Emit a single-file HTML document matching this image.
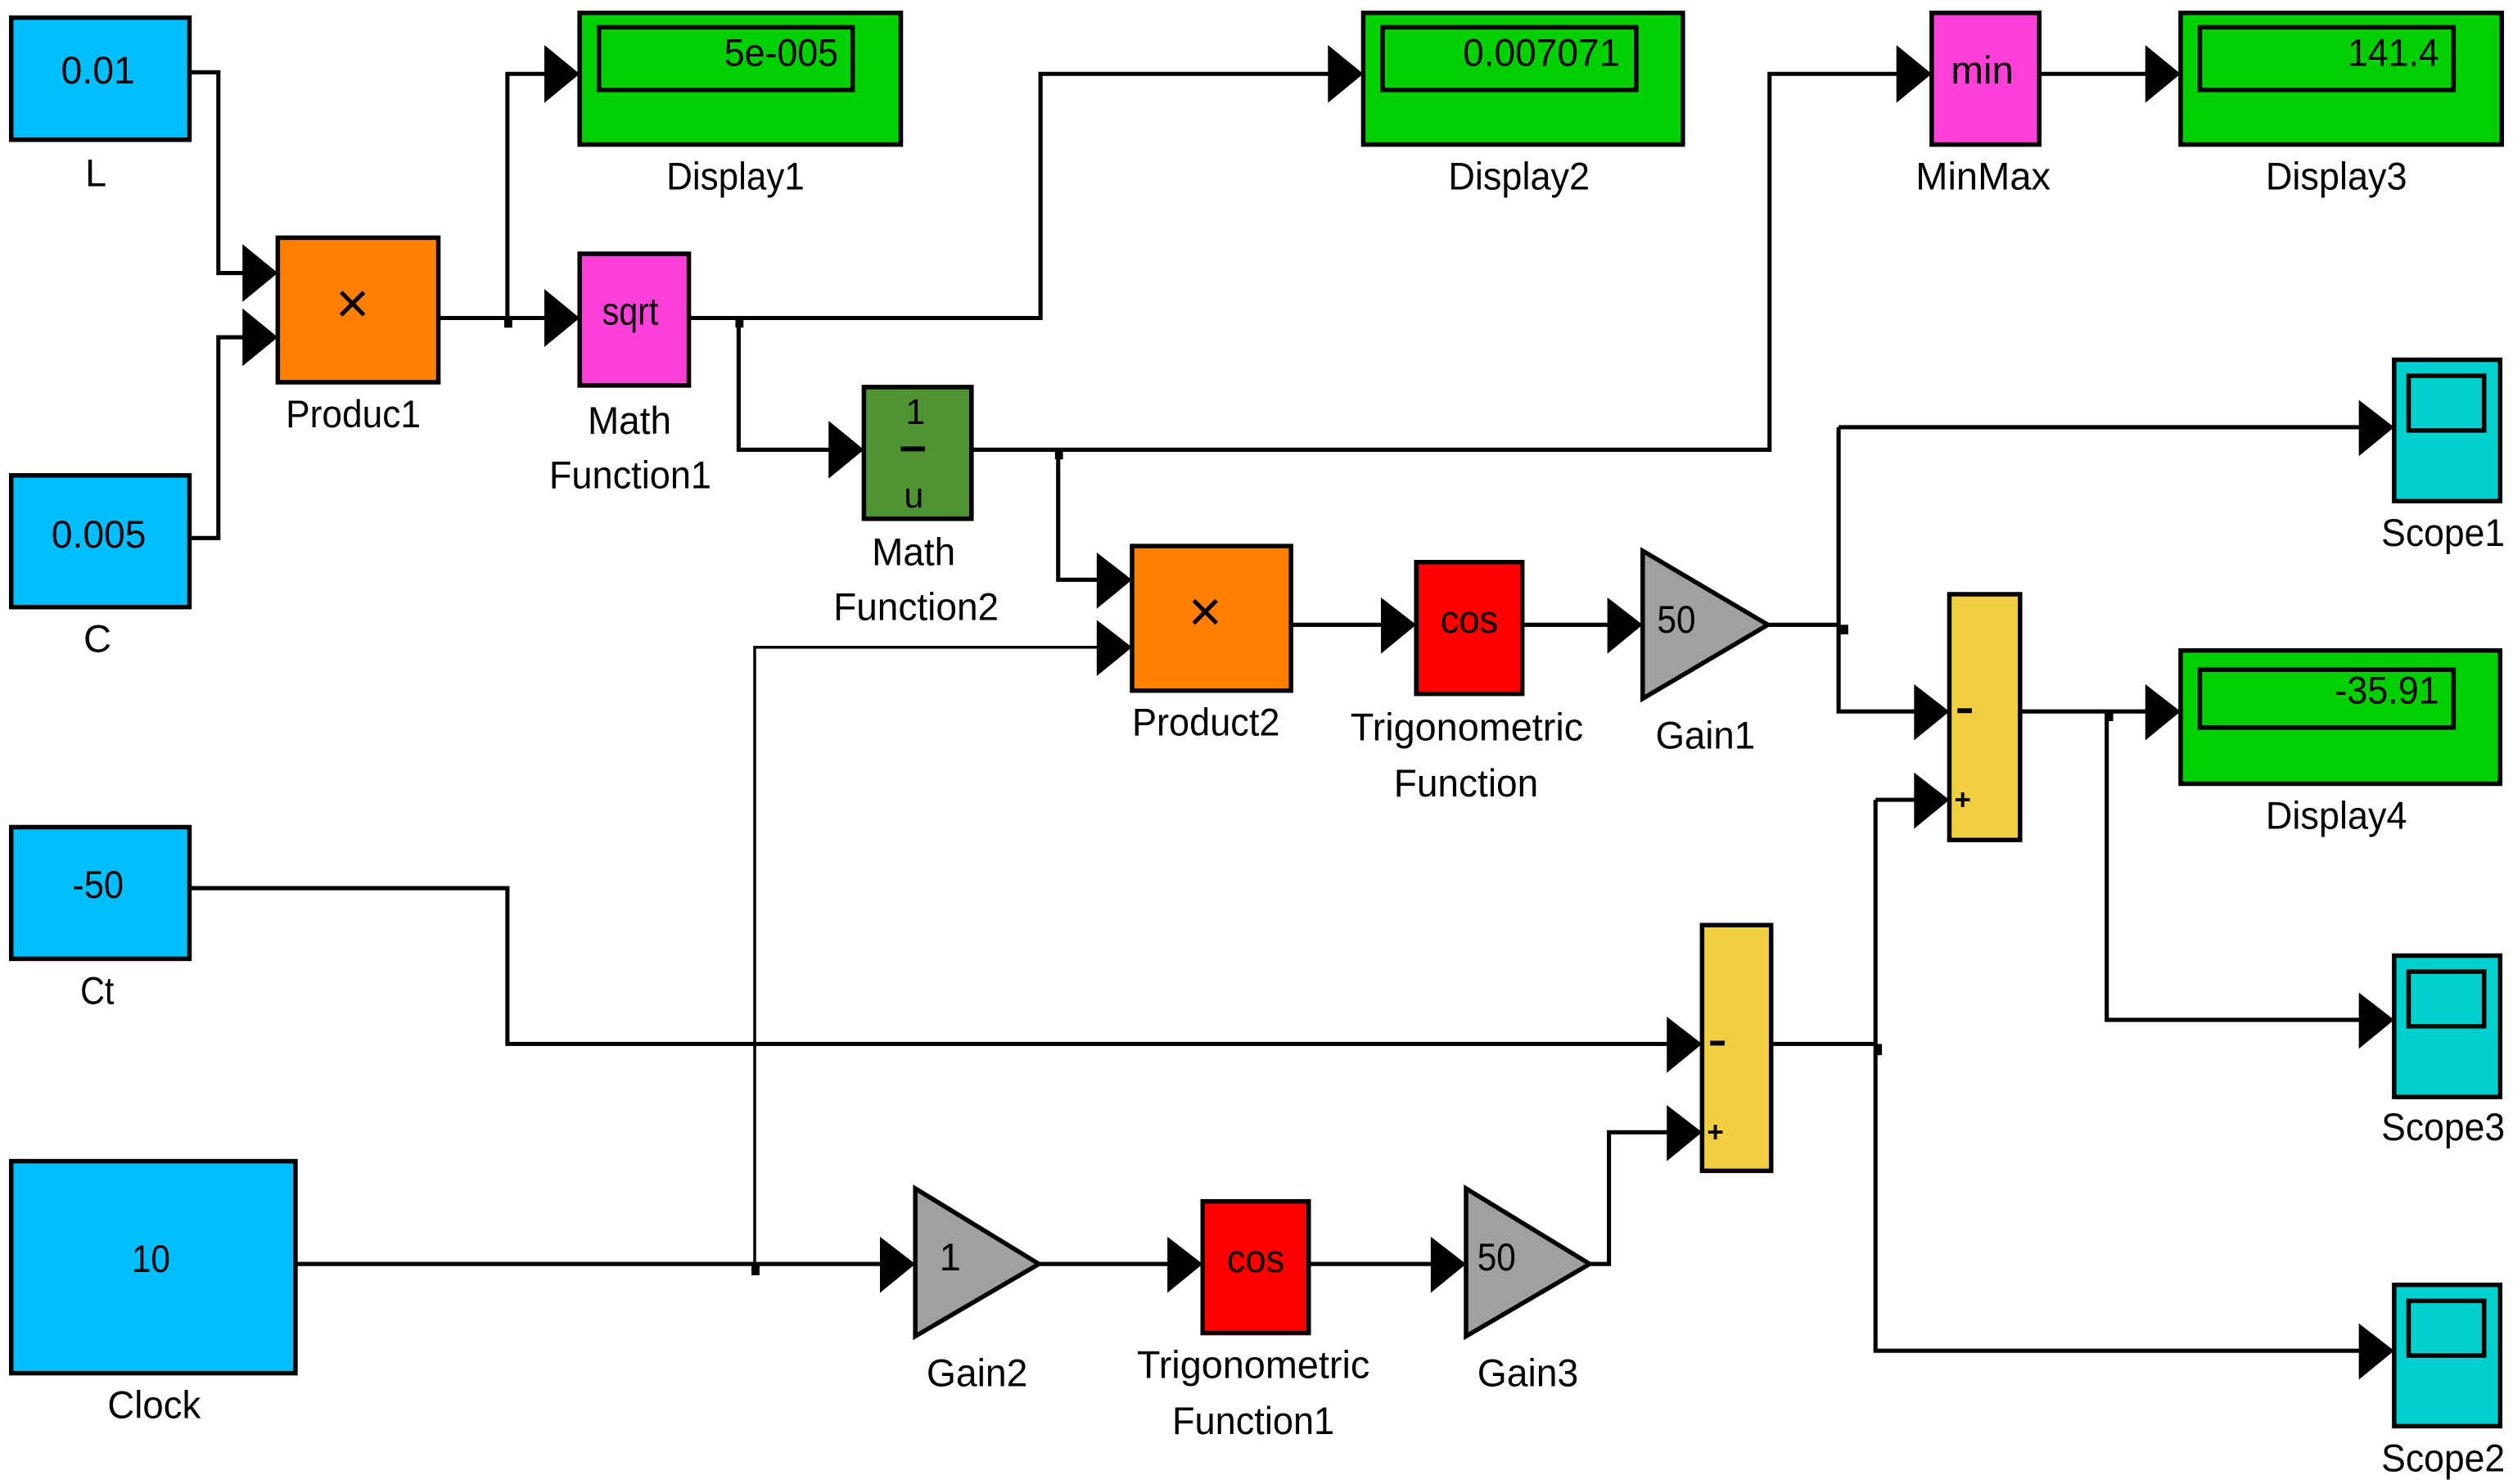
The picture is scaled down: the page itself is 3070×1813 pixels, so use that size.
<!DOCTYPE html>
<html><head><meta charset="utf-8"><style>
html,body{margin:0;padding:0;background:#fff;}
svg{display:block;}
text{font-family:"Liberation Sans",sans-serif;fill:#000;}
</style></head><body>
<svg width="3070" height="1813" viewBox="0 0 1565 924" preserveAspectRatio="none" xmlns="http://www.w3.org/2000/svg">
<g fill="none" stroke="#000" stroke-width="2.6">
<polyline points="118,45 136,45 136,170 160,170"/>
<polyline points="118,335 136,335 136,210 160,210"/>
<polyline points="273,198 350,198"/>
<polyline points="316,198 316,46 350,46"/>
<polyline points="429,198 648,198 648,46 838,46"/>
<polyline points="460,198 460,280 527,280"/>
<polyline points="605,280 1102,280 1102,46 1192,46"/>
<polyline points="1270,46 1347,46"/>
<polyline points="659,280 659,361 694,361"/>
<polyline points="184,787 559,787"/>
<polyline points="470,787 470,403 694,403" stroke-width="1.8"/>
<polyline points="804,389 871,389"/>
<polyline points="948,389 1012,389"/>
<polyline points="1101,389 1145,389"/>
<polyline points="1145,266 1145,443 1203,443"/>
<polyline points="1145,266 1480,266"/>
<polyline points="1258,443 1347,443"/>
<polyline points="1312,443 1312,635 1480,635"/>
<polyline points="118,553 316,553 316,650 1049,650"/>
<polyline points="647,787 738,787"/>
<polyline points="815,787 902,787"/>
<polyline points="990,787 1002,787 1002,705 1049,705"/>
<polyline points="1103,650 1168,650"/>
<polyline points="1168,498 1168,841 1480,841"/>
<polyline points="1168,498 1203,498"/>
</g>
<g fill="#000">
<polygon points="151,152 173,170 151,188"/>
<polygon points="151,192 173,210 151,228"/>
<polygon points="339,180 361,198 339,216"/>
<polygon points="339,28 361,46 339,64"/>
<polygon points="827,28 849,46 827,64"/>
<polygon points="1181,28 1203,46 1181,64"/>
<polygon points="1336,28 1358,46 1336,64"/>
<polygon points="516,262 538,280 516,298"/>
<polygon points="683,344 705,361 683,379"/>
<polygon points="683,386 705,403 683,421"/>
<polygon points="860,372 882,389 860,407"/>
<polygon points="1001,372 1023,389 1001,407"/>
<polygon points="1469,249 1491,266 1469,284"/>
<polygon points="1192,426 1214,443 1192,461"/>
<polygon points="1192,481 1214,498 1192,516"/>
<polygon points="1336,426 1358,443 1336,461"/>
<polygon points="1469,618 1491,635 1469,653"/>
<polygon points="1038,633 1060,650 1038,668"/>
<polygon points="1038,688 1060,705 1038,723"/>
<polygon points="1469,824 1491,841 1469,859"/>
<polygon points="548,770 570,787 548,805"/>
<polygon points="727,770 749,787 727,805"/>
<polygon points="891,770 913,787 891,805"/>
<rect x="314" y="198" width="5" height="6"/>
<rect x="458" y="198" width="5" height="6"/>
<rect x="657" y="280" width="5" height="6"/>
<rect x="1146" y="389" width="5" height="6"/>
<rect x="1311" y="443" width="5" height="6"/>
<rect x="1167" y="650" width="5" height="7"/>
<rect x="468" y="787" width="5" height="7"/>
</g>
<g stroke="#000" stroke-width="2.8">
<rect x="7" y="11" width="111" height="76" fill="#00bfff"/>
<rect x="7" y="296" width="111" height="82" fill="#00bfff"/>
<rect x="7" y="515" width="111" height="82" fill="#00bfff"/>
<rect x="7" y="723" width="177" height="132" fill="#00bfff"/>
<rect x="173" y="148" width="100" height="90" fill="#ff8000"/>
<rect x="705" y="340" width="99" height="90" fill="#ff8000"/>
<rect x="361" y="8" width="200" height="82" fill="#00d000"/>
<rect x="373" y="17" width="158" height="39" fill="none"/>
<rect x="849" y="8" width="199" height="82" fill="#00d000"/>
<rect x="861" y="17" width="158" height="39" fill="none"/>
<rect x="1358" y="8" width="200" height="82" fill="#00d000"/>
<rect x="1370" y="17" width="158" height="39" fill="none"/>
<rect x="1358" y="405" width="199" height="83" fill="#00d000"/>
<rect x="1370" y="417" width="158" height="36" fill="none"/>
<rect x="361" y="158" width="68" height="82" fill="#ff40d8"/>
<rect x="1203" y="8" width="67" height="82" fill="#ff40d8"/>
<rect x="538" y="241" width="67" height="82" fill="#4f9433"/>
<rect x="882" y="350" width="66" height="82" fill="#ff0000"/>
<rect x="749" y="748" width="66" height="82" fill="#ff0000"/>
<polygon points="1023,343 1101,389 1023,435" fill="#a0a0a0"/>
<polygon points="570,740 647,787 570,832" fill="#a0a0a0"/>
<polygon points="913,740 990,787 913,832" fill="#a0a0a0"/>
<rect x="1214" y="370" width="44" height="153" fill="#f0d040"/>
<rect x="1060" y="576" width="43" height="153" fill="#f0d040"/>
<rect x="1491" y="224" width="66" height="88" fill="#00d0d0"/>
<rect x="1500" y="234" width="47" height="34" fill="none"/>
<rect x="1491" y="595" width="66" height="88" fill="#00d0d0"/>
<rect x="1500" y="605" width="47" height="34" fill="none"/>
<rect x="1491" y="800" width="66" height="88" fill="#00d0d0"/>
<rect x="1500" y="810" width="47" height="34" fill="none"/>
</g>
<g fill="#000">
<rect x="561" y="278" width="15" height="3"/>
<rect x="1219" y="441" width="9" height="3"/>
<rect x="1065" y="648" width="9" height="3"/>
</g>
<g font-size="24">
<text x="38" y="52" textLength="46" lengthAdjust="spacingAndGlyphs">0.01</text>
<text x="32" y="341" textLength="59" lengthAdjust="spacingAndGlyphs">0.005</text>
<text x="45" y="559" textLength="32" lengthAdjust="spacingAndGlyphs">-50</text>
<text x="82" y="792" textLength="24" lengthAdjust="spacingAndGlyphs">10</text>
<text x="209" y="201" font-size="36">×</text>
<text x="740" y="393" font-size="36">×</text>
<text x="375" y="202" textLength="35" lengthAdjust="spacingAndGlyphs">sqrt</text>
<text x="1215" y="52" textLength="39" lengthAdjust="spacingAndGlyphs">min</text>
<text x="897" y="394" textLength="36" lengthAdjust="spacingAndGlyphs">cos</text>
<text x="764" y="792" textLength="36" lengthAdjust="spacingAndGlyphs">cos</text>
<text x="1032" y="394" textLength="24" lengthAdjust="spacingAndGlyphs">50</text>
<text x="920" y="791" textLength="24" lengthAdjust="spacingAndGlyphs">50</text>
<text x="585" y="791">1</text>
<text x="564" y="264" font-size="22">1</text>
<text x="563" y="316" font-size="22">u</text>
<text x="451" y="41" textLength="71" lengthAdjust="spacingAndGlyphs">5e-005</text>
<text x="911" y="41" textLength="98" lengthAdjust="spacingAndGlyphs">0.007071</text>
<text x="1462" y="41" textLength="57" lengthAdjust="spacingAndGlyphs">141.4</text>
<text x="1454" y="438" textLength="65" lengthAdjust="spacingAndGlyphs">-35.91</text>
<text x="1217" y="504" font-size="18" font-weight="bold">+</text>
<text x="1063" y="711" font-size="18" font-weight="bold">+</text>
<text x="53" y="116">L</text>
<text x="52" y="406">C</text>
<text x="50" y="625" textLength="21" lengthAdjust="spacingAndGlyphs">Ct</text>
<text x="67" y="883" textLength="58" lengthAdjust="spacingAndGlyphs">Clock</text>
<text x="178" y="266" textLength="84" lengthAdjust="spacingAndGlyphs">Produc1</text>
<text x="415" y="118" textLength="86" lengthAdjust="spacingAndGlyphs">Display1</text>
<text x="902" y="118" textLength="88" lengthAdjust="spacingAndGlyphs">Display2</text>
<text x="1193" y="118" textLength="84" lengthAdjust="spacingAndGlyphs">MinMax</text>
<text x="1411" y="118" textLength="88" lengthAdjust="spacingAndGlyphs">Display3</text>
<text x="366" y="270" textLength="52" lengthAdjust="spacingAndGlyphs">Math</text>
<text x="342" y="304" textLength="101" lengthAdjust="spacingAndGlyphs">Function1</text>
<text x="543" y="352" textLength="52" lengthAdjust="spacingAndGlyphs">Math</text>
<text x="519" y="386" textLength="103" lengthAdjust="spacingAndGlyphs">Function2</text>
<text x="705" y="458" textLength="92" lengthAdjust="spacingAndGlyphs">Product2</text>
<text x="841" y="461" textLength="145" lengthAdjust="spacingAndGlyphs">Trigonometric</text>
<text x="868" y="496" textLength="90" lengthAdjust="spacingAndGlyphs">Function</text>
<text x="1031" y="466" textLength="62" lengthAdjust="spacingAndGlyphs">Gain1</text>
<text x="1483" y="340" textLength="77" lengthAdjust="spacingAndGlyphs">Scope1</text>
<text x="1411" y="516" textLength="88" lengthAdjust="spacingAndGlyphs">Display4</text>
<text x="1483" y="710" textLength="77" lengthAdjust="spacingAndGlyphs">Scope3</text>
<text x="1483" y="916" textLength="77" lengthAdjust="spacingAndGlyphs">Scope2</text>
<text x="577" y="863" textLength="63" lengthAdjust="spacingAndGlyphs">Gain2</text>
<text x="708" y="858" textLength="145" lengthAdjust="spacingAndGlyphs">Trigonometric</text>
<text x="730" y="893" textLength="101" lengthAdjust="spacingAndGlyphs">Function1</text>
<text x="920" y="863" textLength="63" lengthAdjust="spacingAndGlyphs">Gain3</text>
</g>
</svg>
</body></html>
